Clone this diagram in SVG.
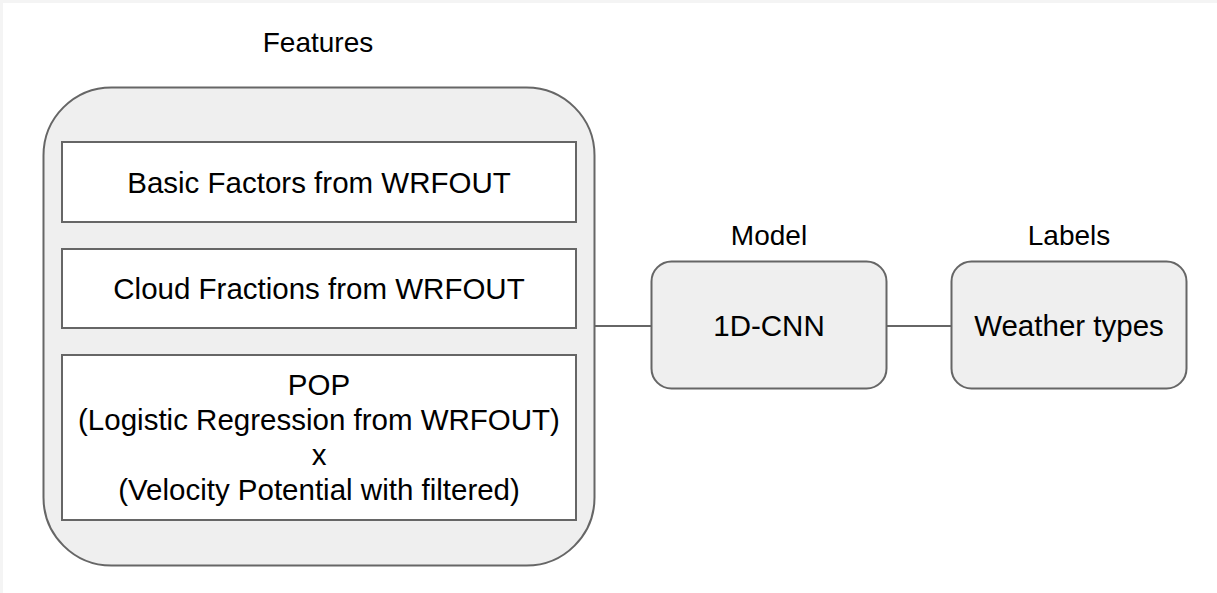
<svg xmlns="http://www.w3.org/2000/svg" width="1217" height="593" viewBox="0 0 1217 593">
  <style>
    .lbl { font-family: "Liberation Sans", Arial, sans-serif; font-size: 28px; fill: #000; text-anchor: middle; }
    .txt { font-family: "Liberation Sans", Arial, sans-serif; font-size: 29.5px; fill: #000; text-anchor: middle; }
    .grp { fill: #efefef; stroke: #666; stroke-width: 2; }
    .item { fill: #fff; stroke: #666; stroke-width: 2; }
    .edge { stroke: #666; stroke-width: 2; fill: none; }
  </style>
  <rect x="0" y="0" width="1217" height="593" fill="#f4f4f4"/>
  <rect x="3" y="3" width="1214" height="590" fill="#fff"/>

  <g id="features">
    <text class="lbl" x="318" y="52">Features</text>
    <rect class="grp" x="43.5" y="87.5" width="551" height="478" rx="68" ry="68"/>
    <g id="basic-factors">
      <rect class="item" x="62" y="142" width="514" height="80"/>
      <text class="txt" x="319" y="193">Basic Factors from WRFOUT</text>
    </g>
    <g id="cloud-fractions">
      <rect class="item" x="62" y="249" width="514" height="79"/>
      <text class="txt" x="319" y="299">Cloud Fractions from WRFOUT</text>
    </g>
    <g id="pop">
      <rect class="item" x="62" y="355" width="514" height="165"/>
      <text class="txt" x="319" y="395">POP</text>
      <text class="txt" x="319" y="430">(Logistic Regression from WRFOUT)</text>
      <text class="txt" x="319" y="465">x</text>
      <text class="txt" x="319" y="500">(Velocity Potential with filtered)</text>
    </g>
  </g>

  <g id="model">
    <text class="lbl" x="769" y="245">Model</text>
    <rect class="grp" x="651.5" y="261.5" width="235" height="127" rx="20" ry="20"/>
    <text class="txt" x="769" y="336">1D-CNN</text>
  </g>

  <g id="labels">
    <text class="lbl" x="1069" y="245">Labels</text>
    <rect class="grp" x="951.5" y="261.5" width="235" height="127" rx="20" ry="20"/>
    <text class="txt" x="1069" y="336">Weather types</text>
  </g>

  <g id="connectors">
    <line class="edge" x1="595" y1="326" x2="651" y2="326"/>
    <line class="edge" x1="887" y1="326" x2="951" y2="326"/>
  </g>
</svg>
